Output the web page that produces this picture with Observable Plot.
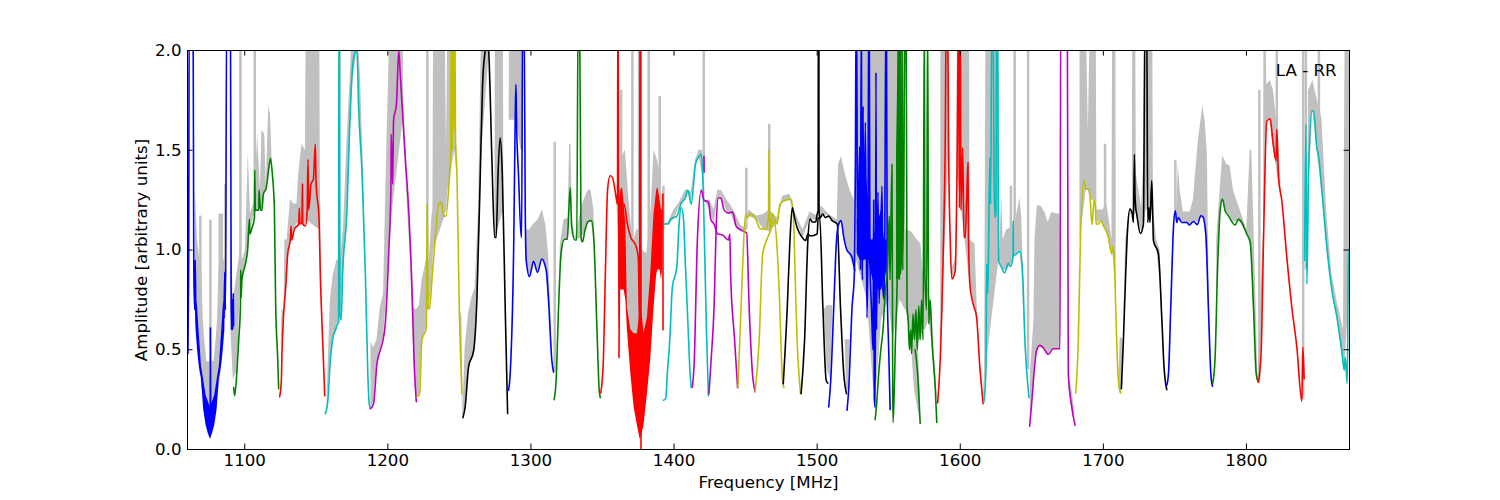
<![CDATA[<!DOCTYPE html>
<html lang="en">
<head>
<meta charset="utf-8">
<title>LA - RR</title>
<script src="https://cdn.jsdelivr.net/npm/d3@7"></script>
<script src="https://cdn.jsdelivr.net/npm/@observablehq/plot@0.6"></script>
<style>
  html, body { margin: 0; padding: 0; background: #fff; }
</style>
</head>
<body>
<div id="graphic"></div>
<script>
const xTicks = [1100, 1200, 1300, 1400, 1500, 1600, 1700, 1800];
const yTicks = [0, 0.5, 1, 1.5, 2];

// [MHz, amplitude], read off the picture; 2.2 means off the top of the axes
const blue1 = [[1060.3,.48],[1060.8,.9],[1061.2,2.2],[1063.9,2.2],[1064.4,.9],[1065,.7],[1065.4,.95],[1065.8,.7],[1066.5,.6]];
const blue1b = [[1075.9,.2],[1076,.61],[1076.2,.2]];
const blue1c = [[1085.5,.66],[1086,.89],[1086.5,.7],[1087.4,2.2],[1090,2.2],[1090.5,.8],[1090.8,.6],[1091.3,.75],[1091.6,.6],[1092,.78],[1092.2,.62]];
const green1 = [[1092.3,.31],[1093,.27],[1094.6,.4],[1095.8,.55],[1097,.72],[1097.2,.9],[1097.5,.76],[1098,.85],[1100.5,.93],[1102,1],[1103.3,1.155],[1103.5,1.08],[1105,1.11],[1106.8,1.16],[1107,1.4],[1107.4,1.2],[1109.8,1.2],[1110,1.3],[1111,1.2],[1112,1.2],[1113,1.28],[1115,1.31],[1116.8,1.41],[1118,1.46],[1119.3,1.38],[1120.7,1.21],[1121.6,.73],[1123,.46],[1123.7,.305]];
const red1 = [[1124.4,.265],[1125.6,.347],[1126,.48],[1127.2,.68],[1128.6,.81],[1130,.98],[1131.9,1.055],[1132.4,1.12],[1132.8,1.05],[1134.7,1.105],[1137.7,1.13],[1138.2,1.21],[1138.5,1.13],[1140,1.14],[1140.3,1.33],[1140.5,1.13],[1142.4,1.12],[1143.6,1.19],[1144.2,1.455],[1144.7,1.2],[1146.3,1.33],[1148,1.355],[1149.3,1.53],[1149.8,1.35],[1152,1.14],[1152.8,.88],[1154,.63],[1155.9,.27]];
const cyan1 = [[1156.3,.18],[1158,.24],[1159.8,.447],[1161.7,.563],[1163.3,.597],[1165.2,.63],[1165.6,.63],[1165.8,2.2],[1166.2,2.2],[1166.4,.68],[1167.4,.65],[1168.4,.88],[1171.5,1.21],[1173,1.55],[1175,1.88],[1176.6,1.98],[1178.4,2],[1179.6,1.71],[1182,1.38],[1184.3,.88],[1186,.38],[1187,.23],[1187.8,.205]];
const magenta1 = [[1188,.205],[1190,.23],[1192.4,.43],[1194.7,.497],[1196.6,.547],[1198.2,.63],[1200.6,.98],[1202.2,1.33],[1202.3,1.58],[1203.4,1.33],[1204,1.65],[1206,1.73],[1207.6,2],[1208.7,1.88],[1209.9,1.73],[1212.2,1.46],[1214.5,1.21],[1216.9,.8],[1218.5,.41],[1219.9,.24]];
const yellow1 = [[1220.3,.263],[1222.2,.28],[1223.8,.547],[1226.9,.61],[1227.5,1.23],[1228,.71],[1229.1,.705],[1230.8,.85],[1233,1.05],[1235.5,1.23],[1237.3,1.24],[1239,1.17],[1240.6,1.17],[1242.5,1.31],[1244,1.51],[1244.3,2.2],[1245,1.5],[1245.5,2.2],[1246.3,1.6],[1246.8,2.2],[1247.3,1.55],[1248.3,1.38],[1250,.68],[1251.8,.28]];
const black1 = [[1252.5,.16],[1254,.213],[1256.4,.413],[1260,.497],[1262.2,.747],[1264.6,1.38],[1266.2,1.83],[1268,2],[1268.8,2.05],[1270.4,2],[1272.7,1.46],[1274.6,1.063],[1275.7,1.063],[1277,1.38],[1278.5,1.563],[1280,1.38],[1282,.713],[1283.7,.18]];
const blue2 = [[1284.4,.297],[1285.5,.38],[1288,1.05],[1289,1.655],[1289.5,1.83],[1289.9,1.65],[1291.3,1.38],[1293.2,1.063],[1293.5,1.063],[1294.2,2.2],[1295.2,2.2],[1296,1.21],[1296.7,.947],[1299,.867],[1301.8,.943],[1304.6,.888],[1307.6,.955],[1310.7,.897],[1312.3,.747],[1314.6,.447],[1315.8,.388]];
const green2 = [[1316.2,.25],[1317.6,.347],[1319.3,.713],[1321,.98],[1323.2,1.052],[1325.4,1.055],[1327.4,1.313],[1328.5,1.113],[1330.7,1.05],[1332,1.05],[1333,2.2],[1334,2.2],[1335,1.063],[1336,1.04],[1337.7,1.097],[1340,1.143],[1342.3,1.147],[1344,1.047],[1346,.63],[1347.7,.297],[1348.4,.26]];
const red2 = [[1348.8,.283],[1350.5,.43],[1352,.88],[1353.5,1.297],[1355.3,1.372],[1357,1.363],[1358.8,1.297],[1360.5,1.23],[1360.7,2.2],[1361,2.2],[1361.5,.46],[1361.8,.8],[1363,1.2],[1365.1,1.23],[1367.4,1.13],[1369.8,1.063],[1373.3,1.022],[1375,.963],[1376,.6],[1376.1,2.2],[1376.8,2.2],[1376.9,0]];
const red2b = [[1392.2,1.28],[1392.3,.6]];
const cyan2 = [[1392.6,.247],[1394.2,.255],[1395.3,.38],[1397,.547],[1398.8,.813],[1401.9,.913],[1403.5,1.13],[1405,1.213],[1406.5,1.163],[1408,.913],[1409.8,.613],[1411.2,.38],[1412,.31]];
const cyan2b = [[1393,1.13],[1396,1.13],[1397.7,1.155],[1402,1.17],[1404.7,1.23],[1408,1.263],[1409.6,1.3],[1412,1.23],[1415,1.43],[1417.5,1.47],[1419,1.48],[1420,1.38],[1421.5,.963],[1422.7,.58],[1424,.27]];
const magenta2 = [[1412.8,.313],[1414,.42],[1416.3,1.05],[1419,1.3],[1420.9,1.25],[1424,1.24],[1425.8,1.15],[1428,1.13],[1430.5,1.08],[1434,1.075],[1438,1.05],[1439,1.08],[1439.5,.88],[1442.3,.55],[1444.4,.31]];
const magenta2b = [[1424.4,.28],[1426,.46],[1428,.72],[1429.5,1.13],[1430.7,1.26],[1432.5,1.263],[1435,1.2],[1438,1.185],[1441,1.19],[1443.3,1.12],[1446.8,1.1],[1450.7,1.085],[1452.5,.71],[1454.8,.38],[1456.7,.29]];
const magenta2c = [[1420.9,1.47],[1421,1.39]];
const yellow2 = [[1444.7,.313],[1447.7,.88],[1450,1.18],[1451.2,1.163],[1453.5,1.18],[1457,1.155],[1460.5,1.105],[1464,1.105],[1466,1.16],[1466.3,1.5],[1467,1.09],[1468.6,1.18],[1472,1.13],[1474,1.23],[1477,1.247],[1481.6,1.255],[1483.3,1.18],[1484.9,.8],[1486,.55],[1488.4,.28]];
const yellow2b = [[1456.7,.29],[1459.5,.55],[1461.9,.98],[1465.3,1.06],[1467.4,1.097],[1469.8,1.147],[1472,1.01],[1473.9,.713],[1475.5,.38],[1476.7,.31]];
const black2 = [[1476.3,.33],[1479.1,.71],[1481,1.05],[1482.6,1.213],[1484.2,1.163],[1486,1.113],[1489.5,1.063],[1491.9,1.047],[1493.5,1.08],[1495.3,1.07],[1500,1.08],[1500.7,1.16],[1501.8,1.163],[1504,.713],[1506.3,.347],[1507.4,.333]];
const black2b = [[1488.8,.28],[1491.2,.547],[1493.5,1.047],[1495,1.155],[1496.7,1.14],[1499,1.14],[1500,1.18],[1500.7,1.2],[1500.8,2.2],[1501.2,2.2],[1501.3,1.2],[1502,1.16],[1503.8,1.18],[1505.8,1.163],[1508,1.17],[1510.5,1.147],[1514,1.13],[1516.3,.713],[1518.6,.38],[1520.5,.28]];
const blue3 = [[1508.1,.213],[1509.5,.347],[1511.6,.713],[1513.5,1.047],[1514.7,1.12],[1516.7,1.147],[1518.6,1.063],[1520.5,1.005],[1524.4,.963],[1526.3,.897]];
const blue4 = [[1520.9,.197],[1522,.297],[1524.4,.713],[1526,.88],[1526.7,1.38],[1527.2,2.2],[1527.6,2.2],[1528.2,1],[1529.7,1.52],[1530.2,.9],[1530.9,2.2],[1531.3,1],[1531.7,.85],[1532.1,1.72],[1532.6,.95],[1533.7,1.64],[1534.8,.66],[1535.5,1],[1536,2.2],[1536.4,2.2],[1536.9,.95],[1538,.7],[1539,.5],[1539.5,1.25],[1539.9,.26],[1540.6,.21],[1541.1,1.89],[1541.5,.6],[1542.5,1.29],[1543.3,.73],[1545.3,1.32],[1546,.8],[1547,.75],[1548,2.2],[1548.4,2.2],[1549,.8],[1550,.5],[1551,.2]];
const green3 = [[1540.5,.15],[1541.4,.213],[1543,.38],[1544.5,.5],[1546,.6],[1547.7,.8],[1549,.88],[1550.4,1.17],[1550.9,.85],[1552.3,1.43],[1552.8,.3],[1553.1,.135],[1554.7,.55],[1556,.9],[1556.9,2.2],[1557.5,.85],[1558,2.2],[1559.3,2.2],[1559.8,.9],[1561.6,2.2],[1562.2,2.2],[1562.8,.72],[1563.6,.65],[1564.5,.5],[1565.3,.6],[1566,.48],[1567,.68],[1568,.55],[1569,.7],[1570,.5],[1571,.72],[1572,.55],[1573,.75],[1574,.55],[1574.9,2.2],[1575.3,.88],[1576.5,.7],[1577.2,2.2],[1577.9,.63],[1579,.75],[1580.2,.55],[1582.6,.3],[1583.6,.135]];
const green3b = [[1568.5,.5],[1570,.4],[1571,.28],[1572,.13]];
const red3 = [[1584.2,.233],[1586,.447],[1587.2,.713],[1588.3,1.047],[1589.5,1.547],[1590.2,2.2],[1591.2,2.2],[1591.8,1.547],[1593,1.047],[1594.2,.855],[1596.5,.897],[1597.7,1.38],[1598.8,2.2],[1599.4,1.21],[1600,2.2],[1600.5,1.2],[1601.7,1.513],[1602.6,1.063],[1603.5,1.063],[1604.5,1.263],[1605.4,1.438],[1605.8,1.047],[1606.7,.83],[1609,.73],[1611.4,.663],[1613.7,.413],[1616,.23]];
const cyan3 = [[1616.5,.238],[1618,.413],[1618.4,.93],[1619.1,.78],[1619.6,.913],[1620.7,1.463],[1621.2,1.23],[1622.1,2.2],[1623,2.2],[1623.5,1.463],[1624.2,1.163],[1624.9,1.18],[1625.4,2.2],[1626.1,2.2],[1626.8,.947],[1628.9,.913],[1631,.885],[1633.6,.933],[1635.2,.917],[1636.9,.972],[1637,1.147],[1637.2,.972],[1641.7,.993],[1643.6,.88],[1645.2,.547],[1646.4,.397],[1648,.26]];
const magenta3 = [[1648.5,.117],[1650.1,.247],[1651.5,.38],[1653.4,.497],[1655.7,.522],[1658,.51],[1661.5,.477],[1665,.505],[1669.7,.505],[1670.2,2.2],[1674.8,2.2],[1675.5,.38],[1677.9,.213],[1680.2,.122]];
const yellow3 = [[1680.7,.283],[1682.5,.547],[1684.1,1.08],[1686.5,1.347],[1687.9,1.305],[1690.2,1.305],[1692.1,1.127],[1693.5,1.247],[1694.2,1.25],[1694.9,1.13],[1696.5,1.13],[1698.1,1.147],[1700,1.122],[1703.5,1.063],[1705.8,.98],[1706.5,1.017],[1707.5,.963],[1709.3,.547],[1710.5,.347],[1712.1,.283]];
const black3 = [[1712.6,.305],[1714,.547],[1715.6,.88],[1717,1.113],[1718.6,1.205],[1720.3,1.18],[1721,1.138],[1721.7,1.48],[1722.1,1.28],[1722.6,1.213],[1723.3,1.18],[1725.9,1.083],[1728,1.13],[1729.1,2.2],[1730.3,2.2],[1731,1.138],[1731.9,1.213],[1732.6,1.138],[1733.8,1.347],[1734.5,1.18],[1735,1.047],[1738.5,.98],[1740.8,.663],[1742.4,.413],[1744.3,.3]];
const blue5 = [[1744.3,.322],[1745.5,.38],[1747.1,.713],[1749,1.113],[1750.3,1.197],[1751.3,1.138],[1752.4,1.163],[1754.8,1.138],[1758.3,1.138],[1760.1,1.125],[1762.9,1.143],[1765.7,1.127],[1768.1,1.172],[1769.5,1.167],[1771.6,1.08],[1773.4,.713],[1775.1,.38],[1776.2,.317]];
const green5 = [[1776.5,.333],[1778.1,.463],[1779.7,.88],[1781.6,1.197],[1783.2,1.255],[1785.1,1.197],[1787.4,1.172],[1792.1,1.125],[1794.4,1.155],[1796.7,1.138],[1800.2,1.08],[1802.6,1.038],[1804.9,.713],[1806.8,.38],[1808.2,.337]];
const red5 = [[1808.4,.337],[1810.3,.497],[1811.9,1.047],[1814.2,1.647],[1816.6,1.658],[1818.4,1.547],[1820.7,1.447],[1821.2,1.605],[1822.4,1.363],[1824.7,1.247],[1828.2,.963],[1831.7,.713],[1835.2,.513],[1838.7,.242],[1839.4,.513],[1840.3,.355]];
const cyan5 = [[1840.6,.947],[1841.5,1.63],[1842.2,.83],[1843.4,1.38],[1845.7,1.697],[1846.9,1.697],[1849.2,1.513],[1850.4,1.472],[1852.7,1.297],[1856.2,1.013],[1859.7,.797],[1863.2,.663],[1866.7,.488],[1868.3,.397],[1869,.463],[1870.4,.33],[1871.3,.963],[1872,1]];

// [MHz, low, high] of the solid-looking oscillating parts
const blueDense = [[1066,.6,.75],[1067,.5,.72],[1068,.43,.6],[1069,.38,.5],[1069.7,.36,.42],[1071.3,.2,.35],[1073,.12,.27],[1074.5,.08,.24],[1076,.05,.21],[1077.5,.08,.24],[1079,.12,.27],[1080.7,.2,.35],[1082.3,.36,.42],[1083,.38,.5],[1084,.43,.6],[1085,.5,.72],[1086,.6,.75]];
const blueDense2 = [[1528,.98,1.15],[1530,.95,1.3],[1532,.95,1.35],[1534,.95,1.4],[1536,.95,1.25],[1537.5,.9,1.05],[1539,.85,1.05],[1541,.83,1.1],[1543,.8,1.15],[1545,.8,1.2],[1547,.85,1.05],[1549,.9,1.05]];
const greenDense = [[1555.5,.85,1.5],[1557,.85,2.2],[1559,.88,2.2],[1560,.95,1.3]];
const redDense = [[1361.6,.8,1.23],[1362.8,.8,1.3],[1364,.8,1.313],[1365.1,.8,1.23],[1366.3,.75,1.13],[1367.4,.6,.71],[1369.8,.38,.6],[1372.1,.21,.58],[1374.4,.12,.58],[1376.3,.05,.7],[1377.7,.08,.68],[1379,.12,.58],[1381.4,.28,.66],[1383.7,.45,.88],[1386,.71,1.18],[1387.9,.88,1.3],[1388.8,.9,1.313],[1390.2,.9,1.25],[1391.2,.85,1.2],[1391.9,.9,1.2]];

// [MHz, low, high] of the grey envelope; a row with only a frequency breaks the area
const greyBand = [
  [1065.5,.7,1.3],[1067,.55,1.05],[1068.5,.45,.96],[1070,.3,.9],[1071,.3,.65],[1072,.2,.55],[1073.5,.12,.44],[1076,.1,.44],[1078.5,.12,.44],[1080,.2,.55],[1081,.3,.65],[1082,.3,.9],[1083.5,.4,.95],[1085,.5,.95],[1086.5,.6,.95],[1088,.9,.9],[1088.5],
  [1090,.6,.6],[1090.3,.6,1.1],[1092,.35,.75],[1095,.4,.9],[1097,.85,1],[1098.5,.85,.95],[1100.5,.92,1],[1102.5,1,1.49],[1104,1.1,1.18],[1107,1.18,1.25],[1109,1.2,1.58],[1111,1.2,1.3],[1112,1.2,1.6],[1114,1.28,1.58],[1115,1.3,1.33],[1116.8,1.4,1.72],[1118,1.46,1.68],[1119.5,1.38,1.38],[1120],
  [1125.5,.5,.5],[1126,.55,.7],[1127.5,.7,.7],[1128,.75,1.05],[1129.6,.9,1.05],[1132,1.05,1.255],[1134.2,1.1,1.23],[1136.5,1.13,1.23],[1137.7,1.13,1.38],[1140,1.14,1.53],[1142.4,1.12,1.5],[1143,1.15,2.2],[1152.4,1.1,2.2],[1152.8,.9,1.38],[1154,.63,.63],[1155],
  [1157.5,.2,.25],[1159.8,.45,.75],[1162,.57,.88],[1164.5,.6,.95],[1165.6,.63,.95],[1166.8,.63,.95],[1169,.9,1.113],[1171.5,1.21,1.547],[1173.8,1.6,1.88],[1175.6,1.85,2.2],[1178.4,2,2.2],[1180.8,1.6,1.88],[1183.1,1.2,1.38],[1185.4,.7,.71],[1186.8,.25,.25],[1187],
  [1188.2,.21,.54],[1190,.23,.51],[1192.4,.43,.55],[1194.7,.5,.71],[1197,.56,.78],[1199.4,.8,1.55],[1201.7,1.1,2.2],[1210.6,1.65,2.2],[1211,1.6,1.8],[1213.4,1.25,1.38],[1215.8,.95,1.05],[1218,.5,.71],[1220,.25,.7],[1222,.28,.72],[1224,.55,.85],[1226.9,.61,.95],[1228,.71,.95],[1229,.7,.95],[1230.8,.85,1.17],[1231.5,.95,1.2],[1232,1,2.2],[1240,1.17,2.2],[1241,1.2,1.5],[1242,1.3,2.2],[1246.8,1.5,2.2],[1248.3,1.38,1.4],[1250,.7,.72],[1251.8,.28,.66],[1252.5,.16,.2],
  [1254,.22,.51],[1256.4,.41,.68],[1258.7,.45,.76],[1261,.5,.81],[1263.4,.9,1.21],[1265.7,1.5,2.2],[1270.4,1.95,2.2],[1271,1.7,1.7],[1272],[1274.8,1.06,1.06],[1275.2,1.06,2.2],[1280.8,1.2,2.2],[1281,1.2,1.2],[1282],[1284.8,1.65,1.65],[1285,1.65,2.2],[1290,1.65,2.2],[1293,1.5,2.2],[1294.4,1.5,2.2],[1294.6,1.5,1.5],[1295],
  [1296.5,.95,1.1],[1299,.87,1.1],[1302,.94,1.13],[1305,.89,1.15],[1308,.95,1.2],[1310.5,.9,1.12],[1312.3,.75,.98],[1313.8,.6,.7],[1315,.44,.45],[1316],
  [1320.3,.9,.9],[1320.5,.9,1.02],[1323,1.05,1.15],[1326,1.05,1.16],[1327,1.3,1.53],[1328,1.3,1.53],[1329,1.1,1.15],[1331,1.05,1.06],[1335,1.06,1.2],[1337,1.08,1.25],[1340,1.14,1.3],[1342,1.15,1.3],[1344,1.05,1.2],[1345,.9,.92],[1346],
  [1360,1.25,1.25],[1362,.9,1.3],[1364,.9,1.47],[1366,.8,1.5],[1368,.6,1.3],[1370,.55,1.13],[1372,.4,1.05],[1374,.3,1.1],[1376,.1,1.1],[1378,.3,1],[1381,.4,.98],[1384,.6,1.21],[1386,.9,1.5],[1388,1,1.46],[1390,1,1.4],[1392,1.1,1.25],
  [1393.5,1.13,1.13],[1396,1.13,1.14],[1400,1.15,1.2],[1404,1.22,1.24],[1408,1.26,1.3],[1410,1.3,1.3],[1412,1.23,1.29],[1415,1.43,1.45],[1417.5,1.47,1.5],[1420,1.37,1.5],[1422,1.24,1.25],[1425,1.2,1.25],[1428,1.13,1.2],[1430.5,1.26,1.3],[1433,1.27,1.3],[1437,1.19,1.25],[1440,1.18,1.22],[1443,1.12,1.18],[1447,1.1,1.12],[1450,1.08,1.11],[1452,1.17,1.2],[1458,1.15,1.17],[1463,1.1,1.18],[1467,1.09,1.2],[1472,1.13,1.16],[1476,1.24,1.27],[1481,1.25,1.28],[1484,1.18,1.2],[1490,1.06,1.1],[1495,1.15,1.19],[1500,1.15,1.17],[1503,1.18,1.22],[1508,1.17,1.18],[1514,1.13,1.15],[1515,1.13,1.43],[1517,1.14,1.47],[1520,1.02,1.37],[1523,.97,1.3],[1526,.9,1.25],[1527,.9,1.55],[1527.5,.95,2.2],[1535,.75,2.2],[1539.5,.3,2.2],[1542,.35,2.2],[1545,.65,2.2],[1550,.75,2.2],[1553,.55,2.2],[1558,.75,2.2],[1561.5,.7,2.2],[1562,.7,1.1],[1566,.55,1.09],[1570,.55,1.05],[1572.5,.55,1.03],[1574,.6,.9],[1576,.6,.85],[1578,.65,.8],[1580,.55,.7],[1582.5,.3,.42],[1584,.25,.25],[1585],
  [1586.3,.5,.5],[1586.5,.5,2.2],[1592,1.5,2.2],[1593,1.05,1.05],[1594,.85,.9],[1596.5,.9,.95],[1597.7,1.15,1.2],[1598,1.38,2.2],[1606.5,.85,2.2],[1606.8,.85,1.05],[1610.3,.7,1.03],[1611.9,.65,.71],[1613.7,.41,.45],[1616,.23,.25],[1617,.3,.4],[1618,.41,2.2],[1627,.95,2.2],[1627.4,.95,.95],[1628.9,.91,1.28],[1630,.9,1.05],[1632.4,.9,1.1],[1634.7,.92,1.11],[1636,.93,1.11],[1639,.98,1.16],[1641.7,1,1.26],[1643,.9,1.16],[1645.2,.55,.6],[1646,.4,.42],[1647],
  [1649,.12,.38],[1651.5,.38,.65],[1652.2,.45,1.05],[1653.8,.5,1.22],[1656.4,.52,1.22],[1659.2,.49,1.188],[1661.5,.477,1.138],[1663.9,.5,1.188],[1667.4,.5,1.18],[1669.7,.505,1.18],[1670,.5,.5],[1671],[1675.7,.35,.38],[1678,.2,.3],[1680,.13,.2],[1681],
  [1682.5,.55,.6],[1683.6,1,1.05],[1683.7,1.05,2.2],[1688,1.3,2.2],[1689.5,1.3,1.6],[1691,1.25,2.2],[1695,1.25,2.2],[1695.5,1.13,1.2],[1698,1.15,1.2],[1700,1.12,1.2],[1702,1.1,1.25],[1703.5,1.07,1.18],[1706,1,1.05],[1706.5,1,2.2],[1708.8,.8,2.2],[1709,.6,.6],[1711,.3,.35],[1711.7,.28,.56],[1712.8,.3,.56],[1714,.55,.55],
  [1715.6,.9,1.05],[1718.6,1.2,1.21],[1720.3,1.15,1.18],[1720.5,1.15,2.2],[1722.6,1.2,2.2],[1723,1.18,1.38],[1726.8,1.09,1.21],[1728.7,1.13,1.55],[1729.8,1.2,2.2],[1734.5,1.2,2.2],[1735,1.05,1.2],[1737.3,1,1.05],[1739.6,.85,1],[1742.4,.42,.5],[1743],
  [1747.8,.8,.85],[1749,1.11,1.15],[1750.1,1.2,1.21],[1751.3,1.14,1.21],[1752.4,1.16,1.43],[1753.6,1.14,1.3],[1755.9,1.14,1.19],[1760.6,1.13,1.19],[1762.9,1.14,1.25],[1766.4,1.14,1.55],[1769.5,1.17,1.72],[1771.1,1.1,1.65],[1772.7,.9,1.48],[1773.4,.71,1.05],[1774.5,.5,.55],[1775],
  [1779.2,.75,1.05],[1781.6,1.2,1.3],[1783.4,1.26,1.47],[1786.2,1.19,1.43],[1788.6,1.17,1.42],[1790.9,1.14,1.3],[1793.2,1.14,1.25],[1795.6,1.14,1.2],[1800.2,1.08,1.1],[1802.6,1.04,1.5],[1803.7,.95,1.5],[1804.9,.75,1.2],[1806.8,.4,.7],[1808,.34,.34],
  [1810.5,.5,.85],[1812,1.05,1.1],[1812.2,1.1,2.2],[1813.5,1.4,2.2],[1814.2,1.65,1.83],[1816.6,1.65,1.85],[1818.9,1.5,1.8],[1822.4,1.35,1.55],[1824.7,1.25,1.25],[1825],
  [1843,1.2,1.2],[1843.4,1.3,1.8],[1846.4,1.7,1.85],[1849.2,1.5,1.76],[1852.7,1.3,1.66],[1856.2,1.01,1.18],[1859.7,.8,.88],[1863.2,.66,.75],[1867.8,.42,.6],[1869,.45,2.2],[1872,.8,2.2]
];
const greyDips = [[1505,.7,.7],[1507,.4,.72],[1509.5,.35,.72],[1511,.72,.72],[1512],[1519.5,.55,.55],[1520.5,.3,.55],[1522,.3,.55],[1523,.55,.55],[1524],[1566.5,.45,.5],[1568,.3,.55],[1570.5,.2,.55],[1572,.15,.3]];
// [MHz, low, high] of the narrow grey spikes
const greySpikes = [[1069,.6,1.17],[1076,.3,1.15],[1082.5,.5,1.18],[1084,.6,1.18],[1086.5,.9,1.33],[1097,.85,2.2],[1107,1.2,2.2],[1166,.95,2.2],[1227.6,.7,2.2],[1316.6,.39,1.54],[1363,1.2,1.8],[1370.9,.6,2.2],[1375.5,.5,2.2],[1382.3,.9,2.2],[1390,1.3,1.77],[1392.6,1.1,1.32],[1420.8,1.4,2.2],[1450.5,1.1,1.41],[1466.5,1.2,1.63],[1635.4,1.1,1.32],[1638,1,2.2],[1647.4,.4,2.2],[1701.2,1.2,1.53],[1750.3,1.2,1.45],[1809,.35,1.8],[1821.2,1.5,2.2],[1839.6,.25,2.2],[1841.5,.9,2.2],[1850.6,1.5,2.2]];

const B = "#0000ff", G = "#008000", R = "#ff0000", C = "#00bfbf", M = "#bf00bf", Y = "#bfbf00", K = "#000000";
const bands = [
  [blue1,B],[blue1b,B],[blue1c,B],[green1,G],[red1,R],[cyan1,C],[magenta1,M],[yellow1,Y],[black1,K],[blue2,B],[green2,G],
  [red2,R],[red2b,R],[cyan2,C],[cyan2b,C],[magenta2,M],[magenta2b,M],[magenta2c,M],[yellow2,Y],[yellow2b,Y],[black2,K],[black2b,K],
  [blue3,B],[blue4,B],[green3,G],[green3b,G],[red3,R],[cyan3,C],[magenta3,M],[yellow3,Y],[black3,K],[blue5,B],[green5,G],[red5,R],[cyan5,C]
];

const envelope = (rows, fill) => Plot.areaY(rows, {x: d => d[0], y1: d => d[1], y2: d => d[2], fill, clip: true});

const chart = Plot.plot({
  width: 1500, height: 500,
  marginLeft: 187, marginRight: 151, marginTop: 50, marginBottom: 51,
  style: {fontFamily: "'DejaVu Sans', sans-serif", fontSize: "16.67px", color: "black", background: "white"},
  x: {domain: [1060, 1872]},
  y: {domain: [0, 2]},
  marks: [
    envelope(greyBand, "#c0c0c0"),
    envelope(greyDips, "#c0c0c0"),
    Plot.ruleX(greySpikes, {x: d => d[0], y1: d => d[1], y2: d => d[2], stroke: "#c0c0c0", strokeWidth: 2.5, clip: true}),
    envelope(blueDense, B),
    envelope(blueDense2, B),
    envelope(greenDense, G),
    envelope(redDense, R),
    ...bands.map(([pts, c]) => Plot.line(pts, {x: d => d[0], y: d => d[1], stroke: c, strokeWidth: 1.6, curve: "monotone-x", clip: true})),
    Plot.text(["LA - RR"], {x: 1863, y: 1.9, textAnchor: "end", fontSize: 16.67, fill: "black"}),
    Plot.axisX({ticks: xTicks, tickFormat: d => String(d), tickSize: -5.5, tickPadding: 10, label: "Frequency [MHz]", labelAnchor: "center", labelArrow: "none", labelOffset: 38, anchor: "bottom"}),
    Plot.axisY({ticks: yTicks, tickFormat: d3.format(".1f"), tickSize: -5.5, tickPadding: 11.5, label: "Amplitude [arbitrary units]", labelAnchor: "center", labelArrow: "none", labelOffset: 52, anchor: "left"}),
    // inward ticks on the top and right edges, no labels there
    Plot.ruleX(xTicks, {x: d => d, y1: 2, y2: 1.972, stroke: "black"}),
    Plot.ruleY(yTicks, {y: d => d, x1: 1872, x2: 1868.2, stroke: "black"}),
    Plot.frame({stroke: "black", strokeWidth: 1})
  ]
});
document.getElementById("graphic").appendChild(chart);
</script>
</body>
</html>
]]>
